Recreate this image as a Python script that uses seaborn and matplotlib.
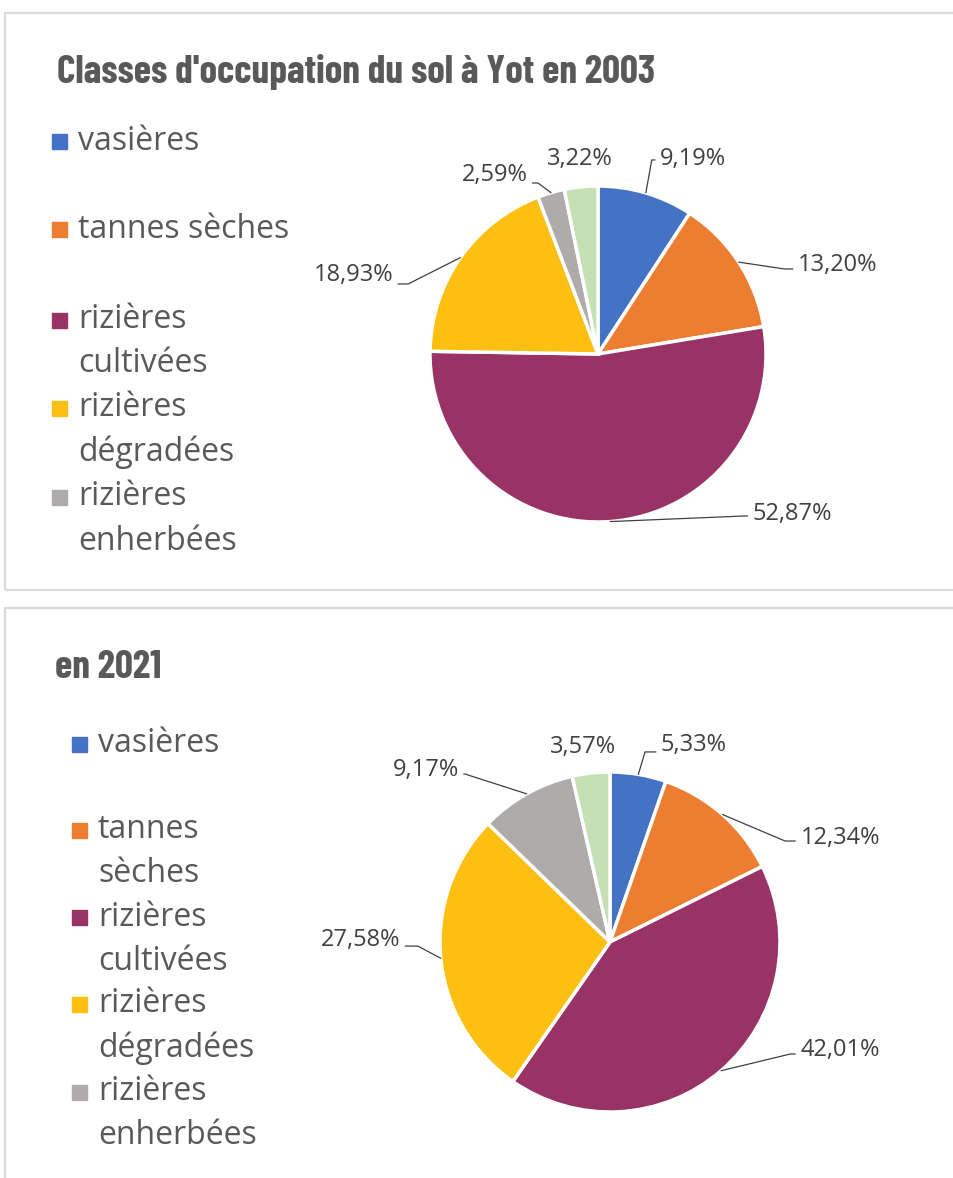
import matplotlib
matplotlib.use('Agg')
import matplotlib.pyplot as plt
from matplotlib.patches import Rectangle
import numpy as np
import seaborn as sns

sns.set_theme(style='white')

# data
categories = ['vasières', 'tannes sèches', 'rizières cultivées',
              'rizières dégradées', 'rizières enherbées', 'autres']
values_2003 = [9.19, 13.20, 52.87, 18.93, 2.59, 3.22]
values_2021 = [5.33, 12.34, 42.01, 27.58, 9.17, 3.57]
legend_2003 = ['vasières', 'tannes sèches', 'rizières\ncultivées',
               'rizières\ndégradées', 'rizières\nenherbées']
legend_2021 = ['vasières', 'tannes\nsèches', 'rizières\ncultivées',
               'rizières\ndégradées', 'rizières\nenherbées']
colors = ['#4472C4', '#ED7D31', '#993366', '#FCBF12', '#AFABAB', '#C5E0B4']

W, H = 954, 1178
fig = plt.figure(figsize=(W / 100, H / 100), dpi=100)


def fx(x):
    return x / W


def fy(y):
    return 1 - y / H


# panel frames
for top, bot in [(13, 590), (608, 1200)]:
    fig.patches.append(Rectangle((fx(5), fy(bot)), fx(980) - fx(5), fy(top) - fy(bot),
                                 transform=fig.transFigure, fill=False,
                                 edgecolor='#D9D9D9', lw=1.6))

txt_font = ['Open Sans', 'DejaVu Sans']
title_font = ['Barlow Condensed', 'DejaVu Sans']

fig.text(fx(57), fy(72), "Classes d'occupation du sol à Yot en 2003",
         fontsize=28.5, fontweight='bold', color='#595959', family=title_font,
         va='center', ha='left')
fig.text(fx(55), fy(668), 'en 2021', fontsize=28.5, fontweight='bold',
         color='#595959', family=title_font, va='center', ha='left')


def legend(labels, x_sq, x_txt, ys):
    for lab, col, y0 in zip(labels, colors, ys):
        fig.patches.append(Rectangle((fx(x_sq), fy(y0 + 7.5)), 15 / W, 15 / H,
                                     transform=fig.transFigure, color=col))
        for i, line in enumerate(lab.split('\n')):
            fig.text(fx(x_txt), fy(y0 + i * 44), line, fontsize=23,
                     color='#595959', family=txt_font, va='center', ha='left')


legend(legend_2003, 52, 78, [141, 229, 320, 408, 497])
legend(legend_2021, 72, 98, [744, 830, 917, 1004, 1092])

# label layout (in pie radius units): text anchor, ha, elbow (None = no leader)
layout_2003 = [((0.37, 1.16), 'left', (0.32, 1.155)),
               ((1.19, 0.53), 'left', (1.11, 0.506)),
               ((0.92, -0.95), 'left', (0.875, -0.964)),
               ((-1.22, 0.47), 'right', (-1.13, 0.417)),
               ((-0.42, 1.065), 'right', (-0.357, 1.018)),
               ((-0.11, 1.16), 'center', None)]
layout_2021 = [((0.30, 1.16), 'left', (0.206, 1.118)),
               ((1.12, 0.61), 'left', (1.03, 0.594)),
               ((1.12, -0.635), 'left', (1.06, -0.659)),
               ((-1.235, 0.012), 'right', (-1.13, -0.024)),
               ((-0.89, 1.012), 'right', (-0.853, 0.988)),
               ((-0.16, 1.147), 'center', None)]


def pie(values, cx, cy, r, layout):
    ax = fig.add_axes([fx(cx - r), fy(cy + r), 2 * r / W, 2 * r / H])
    wedges, _ = ax.pie(values, colors=colors, startangle=90, counterclock=False,
                       wedgeprops=dict(edgecolor='white', linewidth=2.5))
    ax.set_xlim(-1, 1)
    ax.set_ylim(-1, 1)
    ax.axis('off')
    for w, v, (pos, ha, elbow) in zip(wedges, values, layout):
        ang = np.deg2rad((w.theta1 + w.theta2) / 2)
        edge = (np.cos(ang), np.sin(ang))
        ax.text(pos[0], pos[1], f'{v:.2f}%'.replace('.', ','), fontsize=17,
                color='#404040', family=txt_font, ha=ha, va='center', clip_on=False)
        if elbow is not None:
            tip = pos[0] - 0.03 if ha == 'left' else pos[0] + 0.03
            ax.plot([edge[0], elbow[0], tip], [edge[1], elbow[1], elbow[1]],
                    color='#404040', lw=0.9, clip_on=False)


pie(values_2003, 598, 354, 168, layout_2003)
pie(values_2021, 610, 942, 170, layout_2021)

fig.savefig('out.png', dpi=100)
